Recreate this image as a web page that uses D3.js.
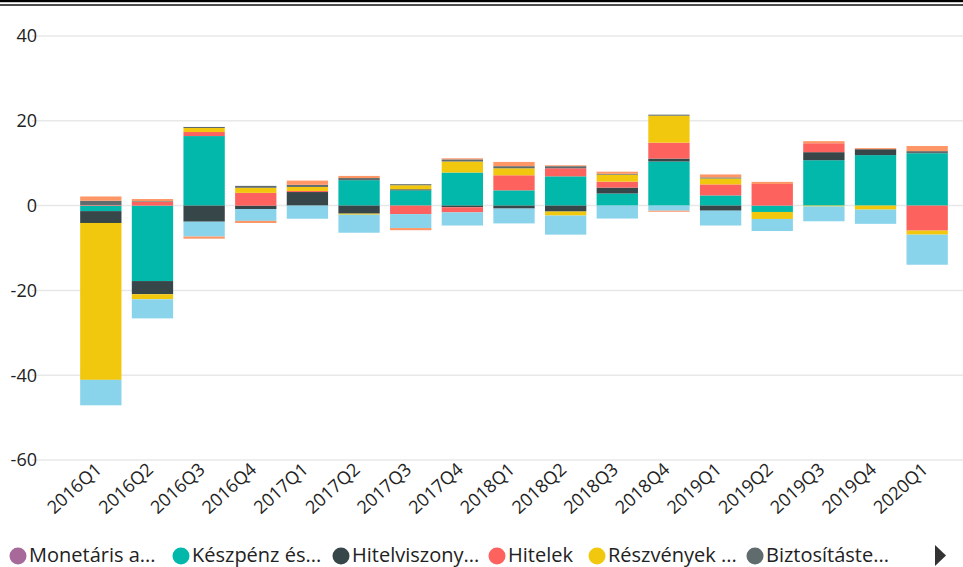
<!DOCTYPE html>
<html><head><meta charset="utf-8">
<script src="https://cdn.jsdelivr.net/npm/d3@7"></script>
<style>
body{margin:0;background:#fff;}
svg{display:block;font-family:"Open Sans","Noto Sans",sans-serif;}
</style></head>
<body><svg id="c" width="963" height="567"></svg>
<script>
const quarters = ["2016Q1","2016Q2","2016Q3","2016Q4","2017Q1","2017Q2","2017Q3","2017Q4","2018Q1","2018Q2","2018Q3","2018Q4","2019Q1","2019Q2","2019Q3","2019Q4","2020Q1"];
const seriesNames = ["Monetáris arany és SDR","Készpénz és betétek","Hitelviszonyt megtestesítő értékpapírok","Hitelek","Részvények és egyéb részesedések","Biztosítástechnikai tartalékok","Pénzügyi derivatívák","Egyéb követelések"];
const legendLabels = ["Monetáris a...","Készpénz és...","Hitelviszony...","Hitelek","Részvények ...","Biztosításte..."];
const colors = ["#A66999","#01B8AA","#374649","#FD625E","#F2C80F","#5F6B6D","#8AD4EB","#FE9666"];
const monetaris   = [0,0,0,0,0,0,0,0,0,0,0,0,0,0,0,0,0];
const keszpenz    = [-1.3,-17.8,16.4,0,0,6.0,3.6,7.8,3.6,6.9,2.85,10.4,2.4,-1.5,10.7,11.9,12.35];
const hitelviszony= [-2.8,-3.1,-3.8,-0.8,3.2,-1.9,0.25,-0.4,-0.7,-1.4,1.4,0.7,-1.2,0,1.9,1.4,0];
const hitelek     = [0.15,0.9,0.95,3.0,0.25,0,-2.0,-1.2,3.55,1.9,1.4,3.75,2.6,5.1,2.1,0,-5.9];
const reszvenyek  = [-37.0,-1.2,0.95,1.2,0.95,-0.25,0.95,2.6,1.65,-0.95,1.65,6.35,1.4,-1.65,-0.2,-0.95,-0.95];
const biztositas  = [1.0,0.15,0.25,0.45,0.5,0.5,0.25,0.5,0.5,0.5,0.2,0.25,0.25,0,0,0,0.5];
const derivativ   = [-6.0,-4.5,-3.5,-2.8,-3.1,-4.25,-3.3,-3.1,-3.5,-4.5,-3.05,-1.2,-3.5,-2.85,-3.5,-3.35,-7.1];
const egyeb       = [1.0,0.5,-0.5,-0.5,1.0,0.5,-0.5,0.25,1.0,0.2,0.5,-0.25,0.7,0.5,0.5,0.25,1.2];
const yTicks = [-60,-40,-20,0,20,40];

const seriesValues = [monetaris,keszpenz,hitelviszony,hitelek,reszvenyek,biztositas,derivativ,egyeb];
const rows = quarters.map((q,i)=>{const r={q}; seriesNames.forEach((s,j)=>r[s]=seriesValues[j][i]); return r;});

const svg = d3.select("#c");
// top double border
svg.append("rect").attr("x",0).attr("y",0).attr("width",963).attr("height",2.2).attr("fill","#000");
svg.append("rect").attr("x",0).attr("y",4.2).attr("width",963).attr("height",1.6).attr("fill","#222");

const x = d3.scaleBand().domain(quarters).range([75,953]).paddingInner(0.2).paddingOuter(0.1);
const y = d3.scaleLinear().domain([-60,40]).range([460,36]);

// gridlines
svg.append("g").selectAll("line").data(yTicks).join("line")
  .attr("x1",32).attr("x2",963).attr("y1",d=>y(d)).attr("y2",d=>y(d))
  .attr("stroke","#e8e8e8").attr("stroke-width",1.5);

// y labels
svg.append("g").selectAll("text").data(yTicks).join("text")
  .attr("x",37).attr("y",d=>y(d)).attr("dy","0.35em").attr("text-anchor","end")
  .attr("font-size",18).attr("fill","#222").text(d=>d);

const stack = d3.stack().keys(seriesNames).offset(d3.stackOffsetDiverging);
const layers = stack(rows);
svg.append("g").selectAll("g").data(layers).join("g").attr("fill",(d,i)=>colors[i])
  .selectAll("rect").data(d=>d).join("rect")
  .attr("x",d=>x(d.data.q)).attr("width",x.bandwidth())
  .attr("y",d=>y(Math.max(d[0],d[1]))).attr("height",d=>Math.abs(y(d[0])-y(d[1])));

// x labels
svg.append("g").selectAll("text").data(quarters).join("text")
  .attr("transform",d=>`translate(${x(d)+x.bandwidth()/2+2},471) rotate(-42)`)
  .attr("text-anchor","end").attr("font-size",18).attr("fill","#222").text(d=>d);

// legend
const legX = [18,181,341,497,597,755];
const lg = svg.append("g");
legendLabels.forEach((t,i)=>{
  lg.append("circle").attr("cx",legX[i]).attr("cy",556).attr("r",8.5).attr("fill",colors[i]);
  lg.append("text").attr("x",legX[i]+11).attr("y",561.5).attr("font-size",20).attr("fill","#222").text(t);
});
lg.append("path").attr("d","M935,545 L946,555.5 L935,566 Z").attr("fill","#333");
</script></body></html>
